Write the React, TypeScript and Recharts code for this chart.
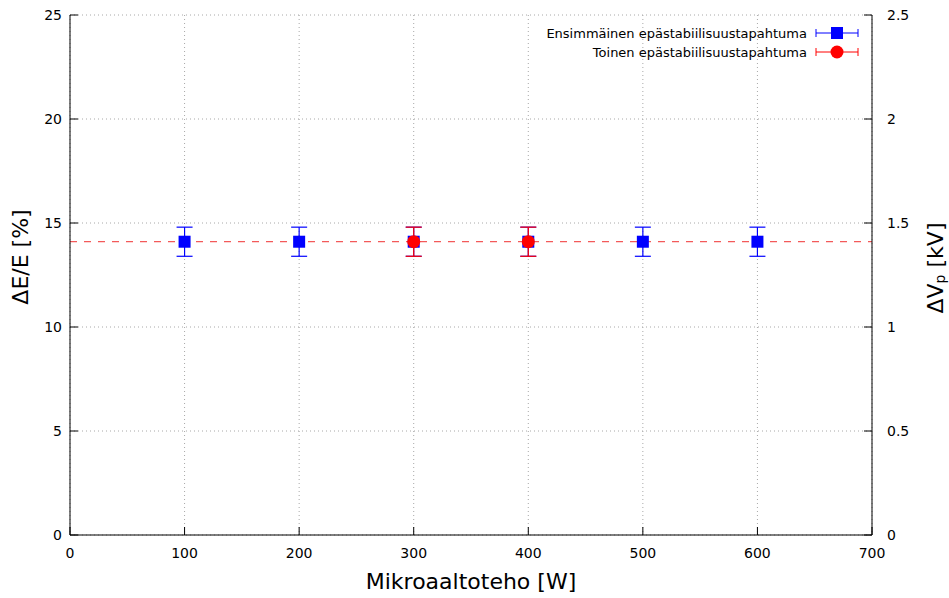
import React from 'react';
import {
  ComposedChart,
  Scatter,
  ErrorBar,
  XAxis,
  YAxis,
  CartesianGrid,
  ReferenceLine,
  Legend,
} from 'recharts';

// Microwave power settings [W]
const powerFirst = [100, 200, 300, 400, 500, 600];
const powerSecond = [300, 400];

// Relative energy spread ΔE/E [%] at each instability event
const deltaEFirst = [14.1, 14.1, 14.1, 14.1, 14.1, 14.1];
const deltaESecond = [14.1, 14.1];

// Uncertainty of ΔE/E [%]
const errFirst = [0.7, 0.7, 0.7, 0.7, 0.7, 0.7];
const errSecond = [0.7, 0.7];

// Constant fitted level of ΔE/E [%]
const fitLevel = 14.1;

const xTicks = [0, 100, 200, 300, 400, 500, 600, 700];
const yLeftTicks = [0, 5, 10, 15, 20, 25];
const yRightTicks = [0, 0.5, 1, 1.5, 2, 2.5];

const seriesNames = ['Ensimmäinen epästabiilisuustapahtuma', 'Toinen epästabiilisuustapahtuma'];
const BLUE = '#0000ff';
const RED = '#ff0000';
const FONT = '"DejaVu Sans", sans-serif';

const firstData = powerFirst.map((x, i) => ({ x, y: deltaEFirst[i], err: errFirst[i] }));
const secondData = powerSecond.map((x, i) => ({ x, y: deltaESecond[i], err: errSecond[i] }));

const SquareMark = (props: any) => {
  const { cx, cy } = props;
  if (cx == null || cy == null) return null;
  return <rect x={cx - 6} y={cy - 6} width={12} height={12} fill={BLUE} />;
};

const CircleMark = (props: any) => {
  const { cx, cy } = props;
  if (cx == null || cy == null) return null;
  return <circle cx={cx} cy={cy} r={6.5} fill={RED} />;
};

const legendItems = [
  { name: seriesNames[0], color: BLUE, shape: 'square' },
  { name: seriesNames[1], color: RED, shape: 'circle' },
];

const LegendBox = () => (
  <svg width={949} height={70} style={{ display: 'block' }}>
    {legendItems.map((item, i) => {
      const cy = 33 + i * 19;
      return (
        <g key={item.name}>
          <text
            x={807}
            y={cy}
            textAnchor="end"
            dominantBaseline="central"
            fontFamily={FONT}
            fontSize={13}
            fill="#000"
          >
            {item.name}
          </text>
          <line x1={816} x2={858} y1={cy} y2={cy} stroke={item.color} strokeWidth={1} />
          <line x1={816} x2={816} y1={cy - 4} y2={cy + 4} stroke={item.color} strokeWidth={1} />
          <line x1={858} x2={858} y1={cy - 4} y2={cy + 4} stroke={item.color} strokeWidth={1} />
          {item.shape === 'square' ? (
            <rect x={831} y={cy - 6} width={12} height={12} fill={item.color} />
          ) : (
            <circle cx={837} cy={cy} r={6.5} fill={item.color} />
          )}
        </g>
      );
    })}
  </svg>
);

const LeftTitle = (props: any) => {
  const vb = props.viewBox || {};
  const x = vb.x + 20;
  const y = 257;
  return (
    <text
      x={x}
      y={y}
      transform={`rotate(-90, ${x}, ${y})`}
      textAnchor="middle"
      dominantBaseline="central"
      fontFamily={FONT}
      fontSize={22}
      fill="#000"
    >
      ΔE/E [%]
    </text>
  );
};

const RightTitle = (props: any) => {
  const vb = props.viewBox || {};
  const x = vb.x + 63;
  const y = 268;
  return (
    <text
      x={x}
      y={y}
      transform={`rotate(-90, ${x}, ${y})`}
      textAnchor="middle"
      dominantBaseline="central"
      fontFamily={FONT}
      fontSize={22}
      fill="#000"
    >
      ΔV
      <tspan fontSize={14} dy={5}>p</tspan>
      <tspan dy={-5}> [kV]</tspan>
    </text>
  );
};

const BottomTitle = (props: any) => {
  const vb = props.viewBox || {};
  const x = vb.x + vb.width / 2;
  const y = 581;
  return (
    <text
      x={x}
      y={y}
      textAnchor="middle"
      dominantBaseline="central"
      fontFamily={FONT}
      fontSize={22}
      fill="#000"
    >
      Mikroaaltoteho [W]
    </text>
  );
};

const tickStyle = { fontFamily: FONT, fontSize: 14, fill: '#000' };

export default function App() {
  return (
    <div style={{ position: 'absolute', left: 0, top: 0, width: 949, height: 598, background: '#fff' }}>
      <ComposedChart
        width={949}
        height={598}
        margin={{ top: 15, right: 0, bottom: 0, left: 0 }}
        style={{ background: '#fff' }}
      >
        <CartesianGrid
          xAxisId="x"
          yAxisId="left"
          stroke="#a8a8a8"
          strokeDasharray="1 3"
        />
        <XAxis
          xAxisId="x"
          dataKey="x"
          type="number"
          domain={[0, 700]}
          ticks={xTicks}
          height={63}
          tickSize={-8}
          tickMargin={21}
          tick={tickStyle}
          stroke="#000"
          axisLine={{ stroke: '#000' }}
          tickLine={{ stroke: '#000' }}
          label={<BottomTitle />}
          allowDataOverflow
        />
        <XAxis
          xAxisId="top"
          orientation="top"
          dataKey="x"
          type="number"
          domain={[0, 700]}
          ticks={xTicks}
          height={0}
          tickSize={-8}
          tick={false}
          axisLine={{ stroke: '#000' }}
          tickLine={{ stroke: '#000' }}
          allowDataOverflow
        />
        <YAxis
          yAxisId="left"
          type="number"
          domain={[0, 25]}
          ticks={yLeftTicks}
          width={70}
          tickSize={-8}
          tickMargin={16}
          tick={tickStyle}
          axisLine={{ stroke: '#000' }}
          tickLine={{ stroke: '#000' }}
          label={<LeftTitle />}
          allowDataOverflow
        />
        <YAxis
          yAxisId="right"
          orientation="right"
          type="number"
          domain={[0, 2.5]}
          ticks={yRightTicks}
          width={77}
          tickSize={-8}
          tickMargin={23}
          tick={{ ...tickStyle, textAnchor: 'start' }}
          axisLine={{ stroke: '#000' }}
          tickLine={{ stroke: '#000' }}
          label={<RightTitle />}
          allowDataOverflow
        />
        <ReferenceLine
          xAxisId="x"
          yAxisId="left"
          y={fitLevel}
          stroke="#f35a5a"
          strokeDasharray="7 7"
          strokeWidth={1.2}
        />
        <Scatter
          name={seriesNames[0]}
          data={firstData}
          dataKey="y"
          xAxisId="x"
          yAxisId="left"
          fill={BLUE}
          shape={<SquareMark />}
          isAnimationActive={false}
        >
          <ErrorBar dataKey="err" direction="y" width={8} stroke={BLUE} strokeWidth={1.2} />
        </Scatter>
        <Scatter
          name={seriesNames[1]}
          data={secondData}
          dataKey="y"
          xAxisId="x"
          yAxisId="left"
          fill={RED}
          shape={<CircleMark />}
          isAnimationActive={false}
        >
          <ErrorBar dataKey="err" direction="y" width={8} stroke={RED} strokeWidth={1.2} />
        </Scatter>
        <Legend
          layout="horizontal"
          verticalAlign="middle"
          align="center"
          content={<LegendBox />}
          wrapperStyle={{ position: 'absolute', top: 0, left: 0, width: 949, height: 70, pointerEvents: 'none' }}
        />
      </ComposedChart>
    </div>
  );
}
